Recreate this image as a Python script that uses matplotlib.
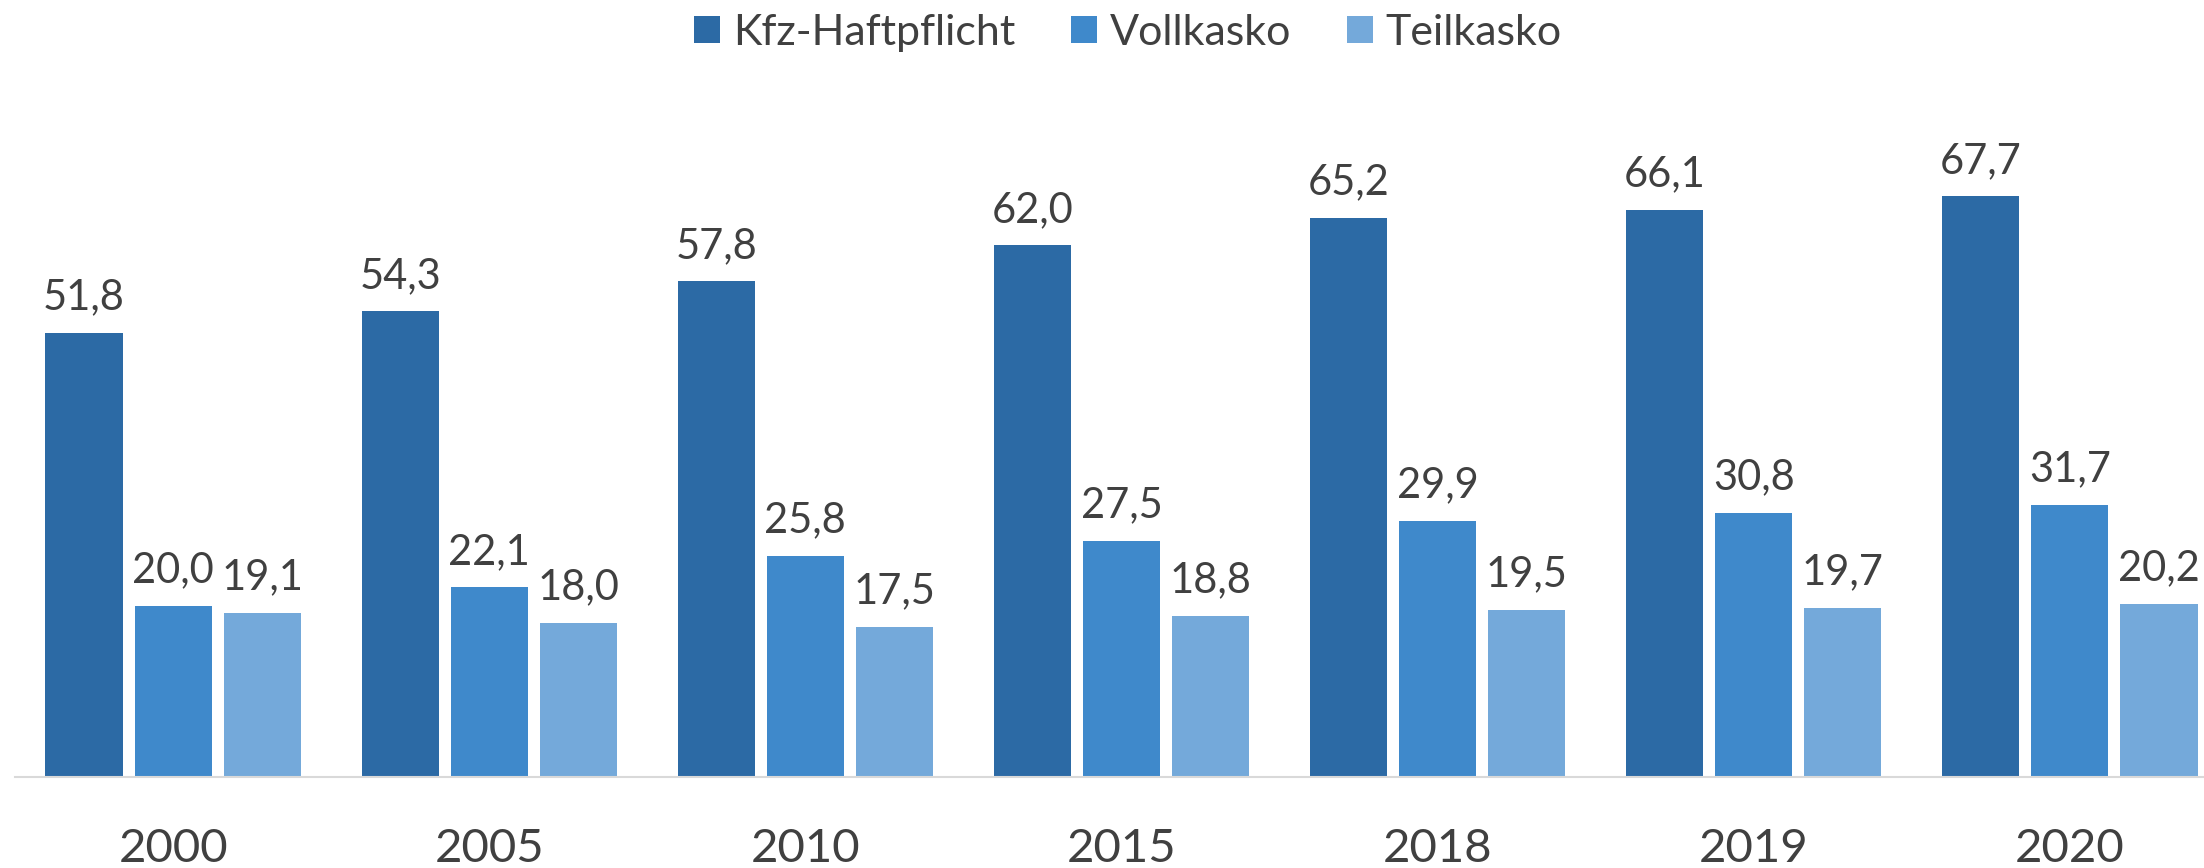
import matplotlib.pyplot as plt
import numpy as np

plt.rcParams['font.family'] = ['Lato', 'DejaVu Sans']

years = ['2000', '2005', '2010', '2015', '2018', '2019', '2020']
kfz = [51.8, 54.3, 57.8, 62.0, 65.2, 66.1, 67.7]
voll = [20.0, 22.1, 25.8, 27.5, 29.9, 30.8, 31.7]
teil = [19.1, 18.0, 17.5, 18.8, 19.5, 19.7, 20.2]

series = [('Kfz-Haftpflicht', kfz, '#2C6AA5'),
          ('Vollkasko', voll, '#3F89CB'),
          ('Teilkasko', teil, '#74A9DA')]

txt = '#404040'
W, H = 2204, 868
fig = plt.figure(figsize=(W / 100, H / 100), dpi=100)
ax = fig.add_axes([15 / W, 91 / H, (2228 - 15) / W, 686 / H])

x = np.arange(len(years))
bw = 0.244
step = 0.2816
handles = []
for j, (name, vals, col) in enumerate(series):
    pos = x + (j - 1) * step
    b = ax.bar(pos, vals, bw, color=col, label=name, zorder=2)
    handles.append(b)
    for px, v in zip(pos, vals):
        ax.annotate(f'{v:.1f}'.replace('.', ','), (px, v), xytext=(0, 17),
                    textcoords='offset points', ha='center', va='baseline',
                    fontsize=30, color=txt)

ax.set_xlim(-0.5, len(years) - 0.5)
ax.set_ylim(0, 80)
ax.set_xticks(x)
ax.set_xticklabels(years, fontsize=34, color=txt)
ax.tick_params(axis='x', length=0, pad=37)
ax.set_yticks([])
for s in ['top', 'right', 'left']:
    ax.spines[s].set_visible(False)
ax.spines['bottom'].set_color('#D9D9D9')
ax.spines['bottom'].set_linewidth(1.5)

fig.legend(handles=handles, loc='center', bbox_to_anchor=(1128 / W, 1 - 33 / H),
           ncol=3, frameon=False, fontsize=31, labelcolor=txt,
           handlelength=0.6, handleheight=0.6, handletextpad=0.3,
           columnspacing=1.3)

fig.savefig('out.png', dpi=100)
